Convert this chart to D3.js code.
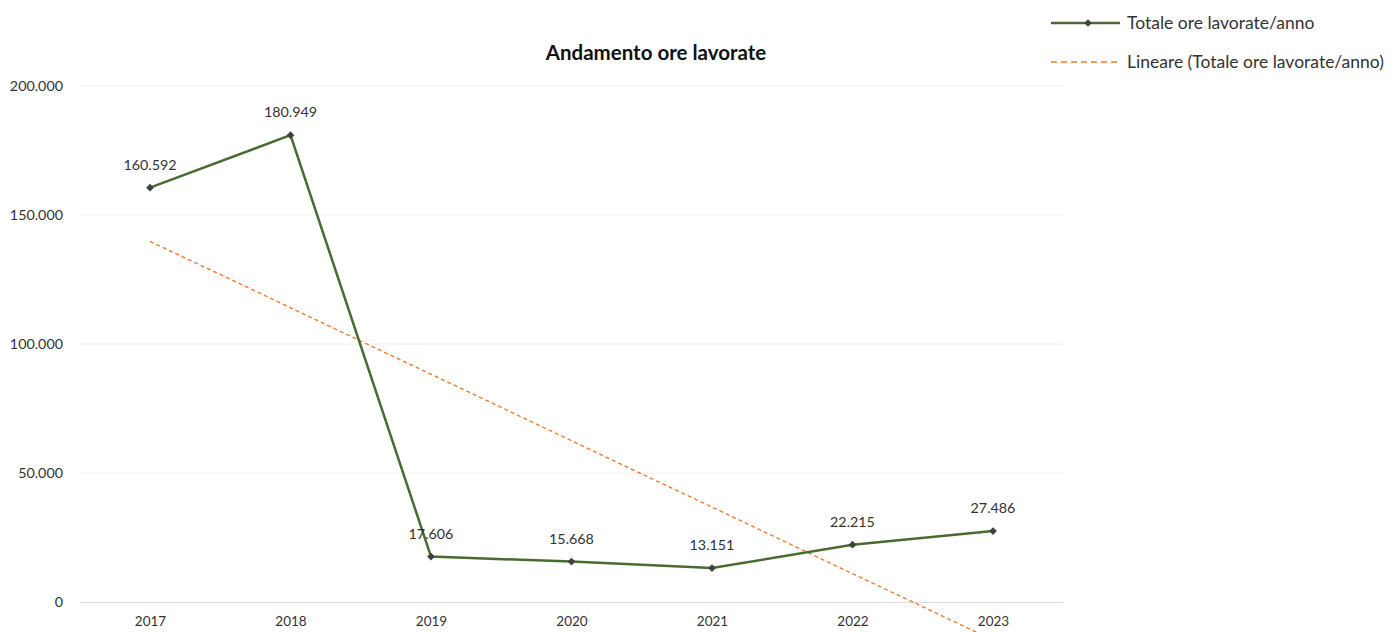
<!DOCTYPE html>
<html><head><meta charset="utf-8">
<script src="https://cdn.jsdelivr.net/npm/d3@7"></script>
<style>body{margin:0;background:#fff}svg{display:block}</style>
</head><body>
<svg id="c" width="1395" height="632"></svg>
<script>
const years = ["2017","2018","2019","2020","2021","2022","2023"];
const hours = [160592,180949,17606,15668,13151,22215,27486];
const yTicks = [0,50000,100000,150000,200000];
const title = "Andamento ore lavorate";
const seriesName = "Totale ore lavorate/anno";
const trendName = "Lineare (Totale ore lavorate/anno)";

const svg = d3.select("#c");
const font = "Lato, 'Open Sans', sans-serif";
const fmt = v => d3.format(",")(v).replace(/,/g,".");

const x = d3.scalePoint().domain(years).range([150,993]);
const y = d3.scaleLinear().domain([0,200000]).range([602,86]);

// gridlines
svg.append("g").selectAll("line").data(yTicks.filter(d=>d>0)).join("line")
  .attr("x1",80).attr("x2",1063).attr("y1",d=>y(d)).attr("y2",d=>y(d))
  .attr("stroke","#eef0f5").attr("stroke-width",1);

// y axis labels
const ya = svg.append("g").attr("transform","translate(80,0)")
  .call(d3.axisLeft(y).tickValues(yTicks).tickFormat(fmt).tickSize(0).tickPadding(17));
ya.select(".domain").remove();
ya.selectAll("text").attr("font-family",font).attr("font-size",14.3).attr("fill","#333");

// x axis
const xa = svg.append("g").attr("transform","translate(0,602)")
  .call(d3.axisBottom(x).tickSize(0).tickPadding(14));
xa.select(".domain").remove();
xa.selectAll("text").attr("font-family",font).attr("font-size",13.5).attr("fill","#333");
svg.append("line").attr("x1",80).attr("x2",1063).attr("y1",602.5).attr("y2",602.5)
  .attr("stroke","#d9d9d9").attr("stroke-width",1.2);

// linear trend (least squares, like Excel)
const n = hours.length, idx = d3.range(1,n+1);
const mx = d3.mean(idx), my = d3.mean(hours);
const slope = d3.sum(idx.map((t,i)=>(t-mx)*(hours[i]-my))) / d3.sum(idx.map(t=>(t-mx)*(t-mx)));
const icpt = my - slope*mx;
svg.append("line")
  .attr("x1",x(years[0])).attr("y1",y(icpt+slope*1))
  .attr("x2",x(years[n-1])).attr("y2",y(icpt+slope*n))
  .attr("stroke","#ED7D31").attr("stroke-width",1.4).attr("stroke-dasharray","4,3");

// series line
const line = d3.line().x((d,i)=>x(years[i])).y(d=>y(d));
svg.append("path").datum(hours).attr("d",line)
  .attr("fill","none").attr("stroke","#4a6b30").attr("stroke-width",2.5);

const diamond = d3.symbol().type(d3.symbolSquare).size(30);
svg.append("g").selectAll("path").data(hours).join("path")
  .attr("d",diamond).attr("transform",(d,i)=>`translate(${x(years[i])},${y(d)}) rotate(45)`)
  .attr("fill","#404040");

// data labels
svg.append("g").selectAll("text").data(hours).join("text")
  .attr("x",(d,i)=>x(years[i])).attr("y",d=>y(d)-18)
  .attr("text-anchor","middle").attr("font-family",font).attr("font-size",14.3).attr("fill","#333")
  .text(fmt);

// title
svg.append("text").attr("x",656).attr("y",60).attr("text-anchor","middle")
  .attr("font-family",font).attr("font-size",20.5).attr("font-weight","bold").attr("fill","#111")
  .text(title);

// legend
const lg = svg.append("g");
lg.append("line").attr("x1",1051).attr("x2",1120).attr("y1",23).attr("y2",23)
  .attr("stroke","#4a6b30").attr("stroke-width",2.5);
lg.append("path").attr("d",diamond).attr("transform","translate(1088,23) rotate(45)").attr("fill","#404040");
lg.append("text").attr("x",1127).attr("y",29).attr("font-family",font).attr("font-size",17.5).attr("fill","#333").text(seriesName);
lg.append("line").attr("x1",1051).attr("x2",1120).attr("y1",62).attr("y2",62)
  .attr("stroke","#ED7D31").attr("stroke-width",1.4).attr("stroke-dasharray","6,4");
lg.append("text").attr("x",1127).attr("y",68).attr("font-family",font).attr("font-size",17.5).attr("fill","#333").text(trendName);
</script>
</body></html>
